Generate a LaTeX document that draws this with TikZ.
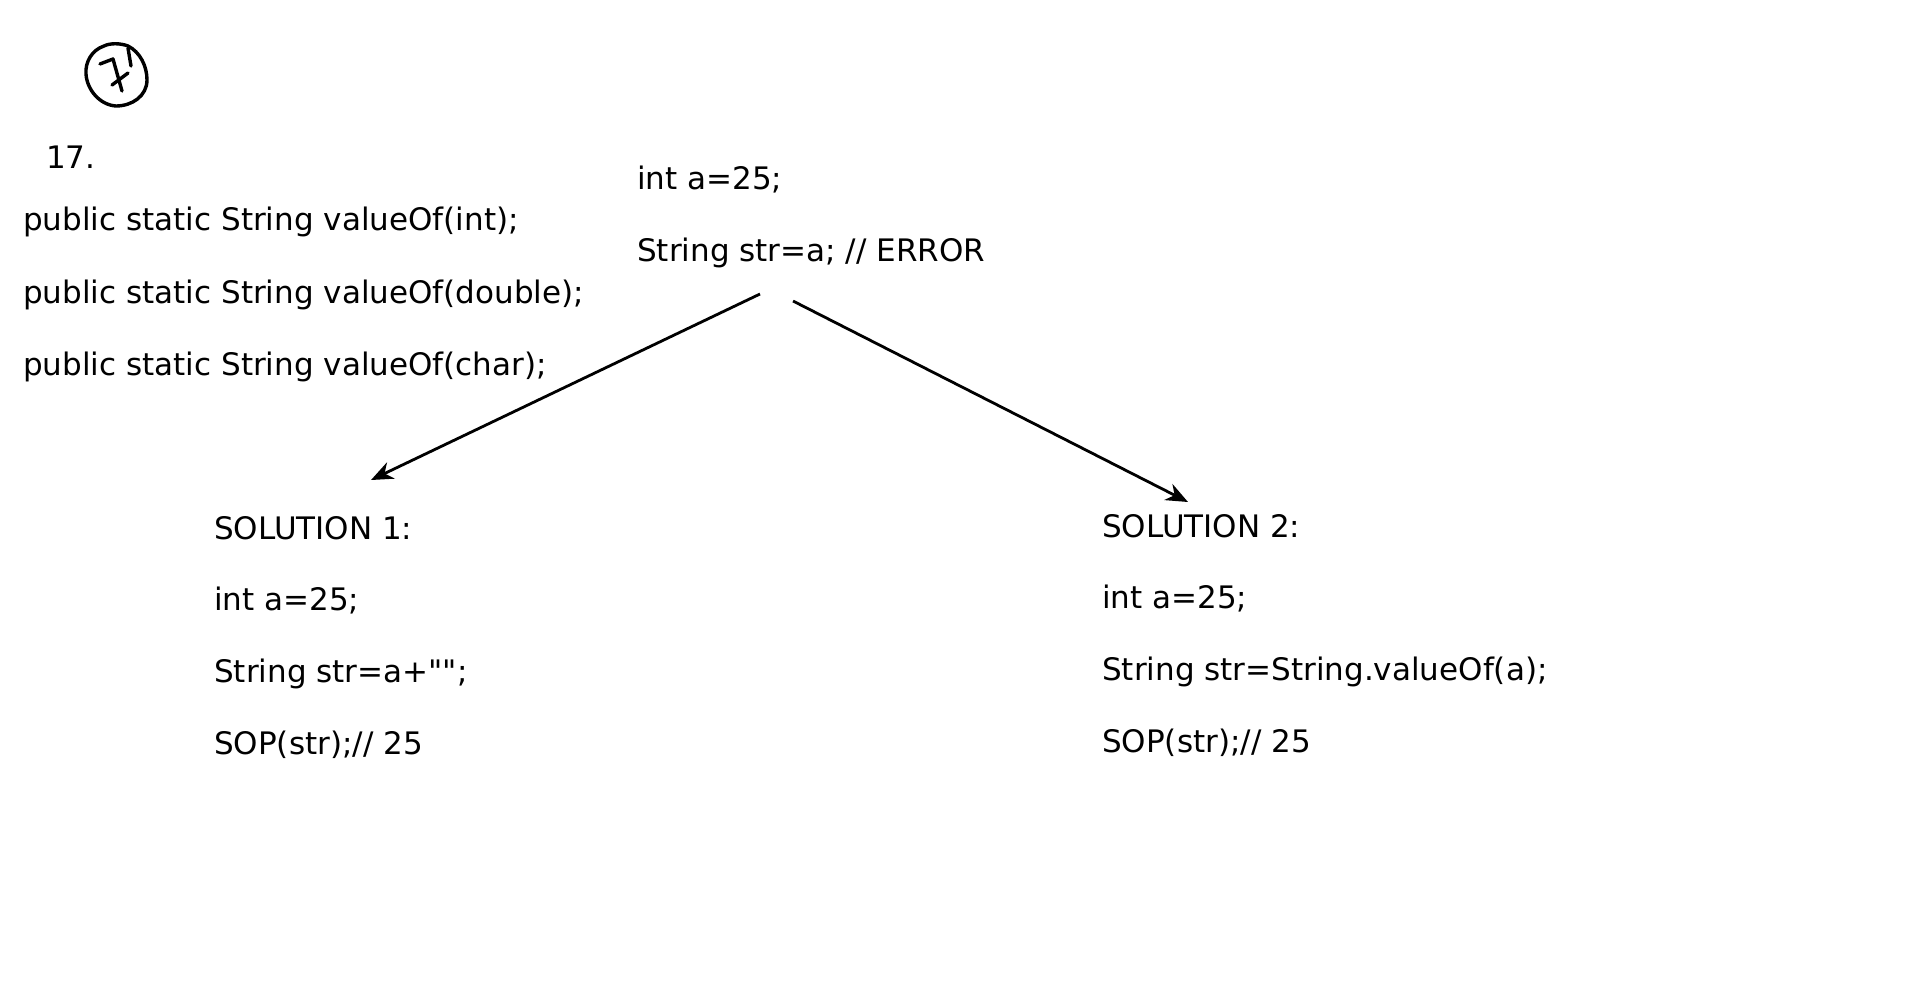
\documentclass[tikz,border=0pt]{standalone}
\usepackage{fontspec}
\setmainfont{DejaVu Sans}[Ligatures=TeXOff]
\usetikzlibrary{arrows.meta}
\begin{document}
\begin{tikzpicture}[x=1pt,y=-1pt,
  txt/.style={anchor=base west,inner sep=0pt,font=\fontsize{31}{37}\selectfont},
  conn/.style={line width=2.8pt,-{Stealth[length=22pt,width=18pt,inset=7pt]}},
  hand/.style={line width=3.4pt,line cap=round,line join=round}]
\useasboundingbox[fill=white] (0,0) rectangle (1920,991);
% hand-drawn circled mark
\draw[hand] (104,46) .. controls (92,50) and (85,62) .. (86,74)
  .. controls (87,90) and (100,105) .. (116,106)
  .. controls (132,106) and (147,96) .. (147,80)
  .. controls (147,66) and (140,52) .. (128,46)
  .. controls (120,43) and (110,43) .. (104,46) -- cycle;
\draw[hand] (100,64) -- (113,59) -- (122,91);
\draw[hand] (112,85) -- (128,73);
\draw[hand] (128,48) -- (131,66);
% texts
\node[txt] (n17) at (46,168) {17.};
\node[txt] (p1) at (23,230) {public static String valueOf(int);};
\node[txt] (p2) at (23,303) {public static String valueOf(double);};
\node[txt] (p3) at (23,375) {public static String valueOf(char);};
\node[txt] (t1) at (637,189) {int a=25;};
\node[txt] (t2) at (637,261) {String str=a; // ERROR};
\node[txt] (s1a) at (214,539) {SOLUTION 1:};
\node[txt] (s1b) at (214,610) {int a=25;};
\node[txt] (s1c) at (214,682) {String str=a+"";};
\node[txt] (s1d) at (214,754) {SOP(str);// 25};
\node[txt] (s2a) at (1102,537) {SOLUTION 2:};
\node[txt] (s2b) at (1102,608) {int a=25;};
\node[txt] (s2c) at (1102,680) {String str=String.valueOf(a);};
\node[txt] (s2d) at (1102,752) {SOP(str);// 25};
% connectors
\coordinate (la) at (760,294);
\coordinate (lb) at (371,480);
\coordinate (ra) at (793,301);
\coordinate (rb) at (1188,502);
\draw[conn] (la) -- (lb);
\draw[conn] (ra) -- (rb);
\end{tikzpicture}
\end{document}
